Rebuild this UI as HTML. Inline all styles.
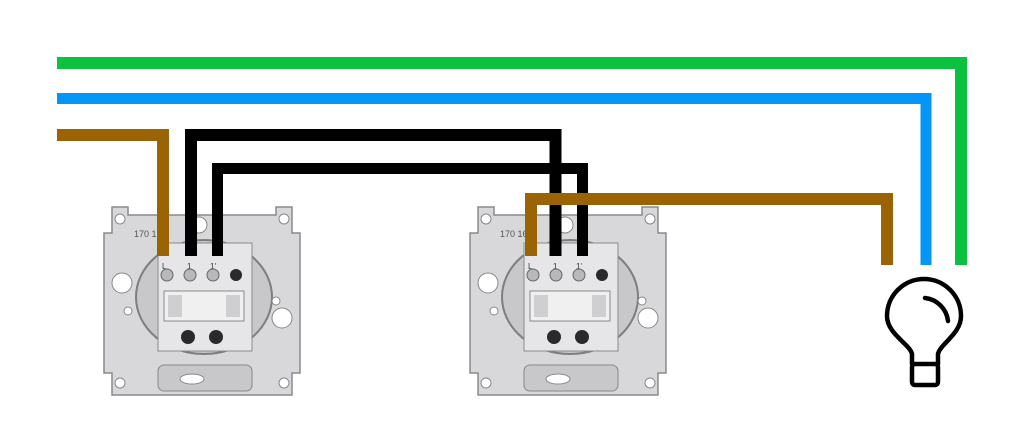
<!DOCTYPE html>
<html><head><meta charset="utf-8"><style>
html,body{margin:0;padding:0;background:#fff;width:1024px;height:445px;overflow:hidden}
svg{display:block}
text{font-family:"Liberation Sans",sans-serif}
</style></head><body>
<svg width="1024" height="445" viewBox="0 0 1024 445">
<!-- Left plate -->
<g transform="translate(104,203)">
 <path d="M8 4 H24 V12 H172 V4 H188 V30 H196 V170 H188 V192 H8 V170 H0 V30 H8 Z" fill="#d8d8da" stroke="#8a8a8e" stroke-width="1.5"/>
 <ellipse cx="100" cy="94" rx="68" ry="57" fill="#c8c8cb" stroke="#7d7d82" stroke-width="2"/>
 <rect x="54" y="40" width="94" height="108" fill="#e6e6e8" stroke="#8a8a8e"/>
 <circle cx="16" cy="16" r="5" fill="#fff" stroke="#888"/>
 <circle cx="180" cy="16" r="5" fill="#fff" stroke="#888"/>
 <circle cx="16" cy="180" r="5" fill="#fff" stroke="#888"/>
 <circle cx="180" cy="180" r="5" fill="#fff" stroke="#888"/>
 <circle cx="18" cy="80" r="10" fill="#fff" stroke="#888"/>
 <circle cx="178" cy="115" r="10" fill="#fff" stroke="#888"/>
 <circle cx="95" cy="22" r="8" fill="#fff" stroke="#888"/>
 <rect x="54" y="162" width="94" height="26" rx="6" fill="#c8c8cb" stroke="#888"/>
 <ellipse cx="88" cy="176" rx="12" ry="5" fill="#fff" stroke="#888"/>
 <text x="30" y="34" font-size="9" fill="#555">170  160</text>
 <text x="58" y="66" font-size="8" fill="#333">L</text>
 <text x="83" y="66" font-size="8" fill="#333">1</text>
 <text x="106" y="66" font-size="8" fill="#333">1'</text>
 <circle cx="63" cy="72" r="6" fill="#b8b8bb" stroke="#666"/>
 <circle cx="86" cy="72" r="6" fill="#b8b8bb" stroke="#666"/>
 <circle cx="109" cy="72" r="6" fill="#b8b8bb" stroke="#666"/>
 <circle cx="132" cy="72" r="6" fill="#2a2a2c"/>
 <rect x="60" y="88" width="80" height="30" fill="#f0f0f1" stroke="#888"/>
 <rect x="64" y="92" width="14" height="22" fill="#cfcfd2"/>
 <rect x="122" y="92" width="14" height="22" fill="#cfcfd2"/>
 <circle cx="84" cy="134" r="7" fill="#2a2a2c"/>
 <circle cx="112" cy="134" r="7" fill="#2a2a2c"/>
 <circle cx="24" cy="108" r="4" fill="#fff" stroke="#888"/>
 <circle cx="172" cy="98" r="4" fill="#fff" stroke="#888"/>
</g>
<!-- Right plate -->
<g transform="translate(470,203)">
 <path d="M8 4 H24 V12 H172 V4 H188 V30 H196 V170 H188 V192 H8 V170 H0 V30 H8 Z" fill="#d8d8da" stroke="#8a8a8e" stroke-width="1.5"/>
 <ellipse cx="100" cy="94" rx="68" ry="57" fill="#c8c8cb" stroke="#7d7d82" stroke-width="2"/>
 <rect x="54" y="40" width="94" height="108" fill="#e6e6e8" stroke="#8a8a8e"/>
 <circle cx="16" cy="16" r="5" fill="#fff" stroke="#888"/>
 <circle cx="180" cy="16" r="5" fill="#fff" stroke="#888"/>
 <circle cx="16" cy="180" r="5" fill="#fff" stroke="#888"/>
 <circle cx="180" cy="180" r="5" fill="#fff" stroke="#888"/>
 <circle cx="18" cy="80" r="10" fill="#fff" stroke="#888"/>
 <circle cx="178" cy="115" r="10" fill="#fff" stroke="#888"/>
 <circle cx="95" cy="22" r="8" fill="#fff" stroke="#888"/>
 <rect x="54" y="162" width="94" height="26" rx="6" fill="#c8c8cb" stroke="#888"/>
 <ellipse cx="88" cy="176" rx="12" ry="5" fill="#fff" stroke="#888"/>
 <text x="30" y="34" font-size="9" fill="#555">170  160</text>
 <text x="58" y="66" font-size="8" fill="#333">L</text>
 <text x="83" y="66" font-size="8" fill="#333">1</text>
 <text x="106" y="66" font-size="8" fill="#333">1'</text>
 <circle cx="63" cy="72" r="6" fill="#b8b8bb" stroke="#666"/>
 <circle cx="86" cy="72" r="6" fill="#b8b8bb" stroke="#666"/>
 <circle cx="109" cy="72" r="6" fill="#b8b8bb" stroke="#666"/>
 <circle cx="132" cy="72" r="6" fill="#2a2a2c"/>
 <rect x="60" y="88" width="80" height="30" fill="#f0f0f1" stroke="#888"/>
 <rect x="64" y="92" width="14" height="22" fill="#cfcfd2"/>
 <rect x="122" y="92" width="14" height="22" fill="#cfcfd2"/>
 <circle cx="84" cy="134" r="7" fill="#2a2a2c"/>
 <circle cx="112" cy="134" r="7" fill="#2a2a2c"/>
 <circle cx="24" cy="108" r="4" fill="#fff" stroke="#888"/>
 <circle cx="172" cy="98" r="4" fill="#fff" stroke="#888"/>
</g>
<!-- Wires -->
<g fill="none" stroke-linejoin="miter" stroke-linecap="butt">
 <path d="M57 63 H961 V265" stroke="#0bc140" stroke-width="12"/>
 <path d="M57 98.5 H926 V265" stroke="#0496f6" stroke-width="11"/>
 <path d="M57 135 H163 V256" stroke="#9a6305" stroke-width="12"/>
 <path d="M191 256 V135 H555.5 V256" stroke="#000" stroke-width="12"/>
 <path d="M217.5 256 V168.5 H582.5 V256" stroke="#000" stroke-width="11"/>
 <path d="M531 256 V199 H887 V265" stroke="#9a6305" stroke-width="12"/>
</g>
<!-- Bulb -->
<g fill="none" stroke="#000" stroke-width="4.5" stroke-linecap="round" stroke-linejoin="round">
 <path d="M912 364 V354 C910 344 887 334 887 316 A37 37 0 0 1 961 316 C961 334 940 344 938 354 V364"/>
 <rect x="912" y="364" width="26" height="21" rx="3"/>
 <path d="M925 298 A26 26 0 0 1 948 321"/>
</g>
</svg>
</body></html>
